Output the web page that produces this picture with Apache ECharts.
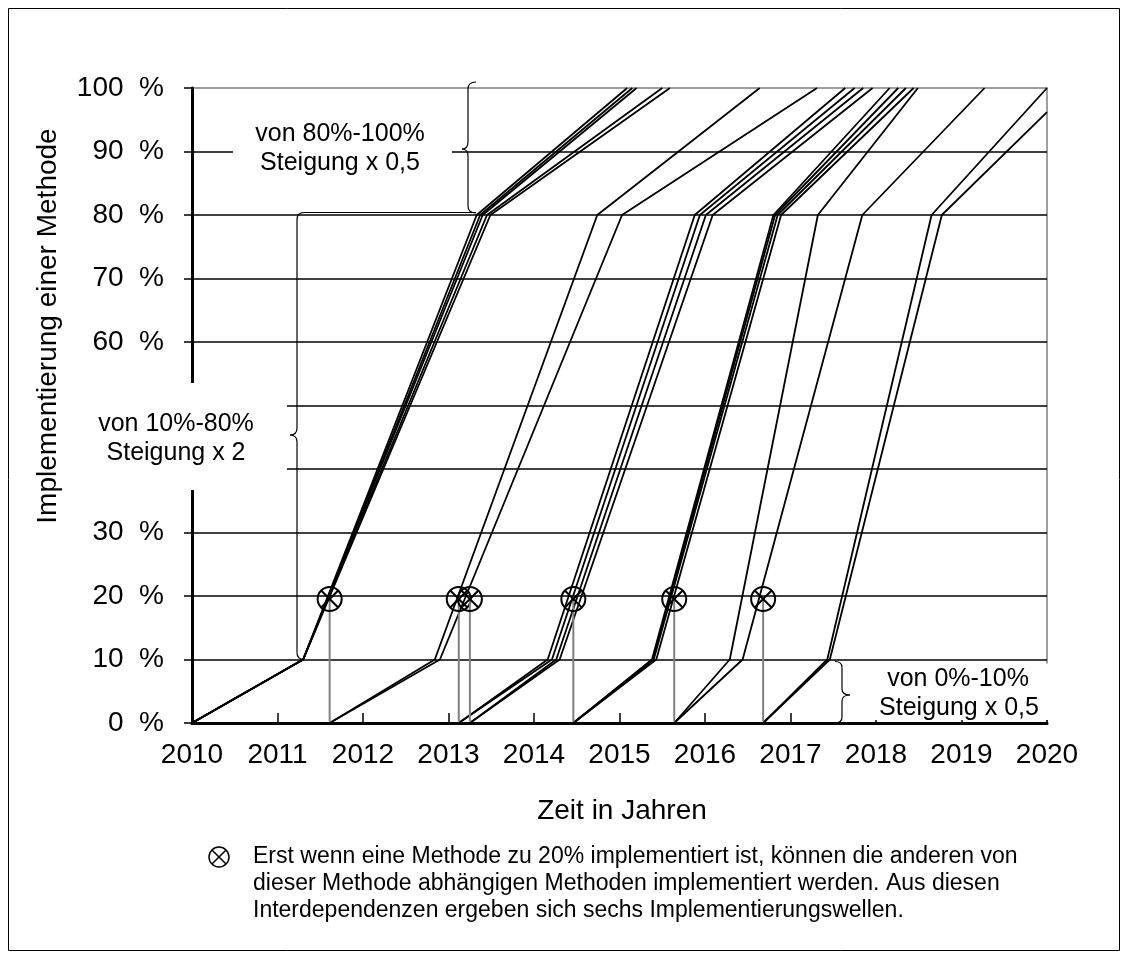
<!DOCTYPE html>
<html>
<head>
<meta charset="utf-8">
<script src="https://cdn.jsdelivr.net/npm/echarts@6/dist/echarts.min.js"></script>
<style>
  html, body { margin: 0; padding: 0; background: #fff; }
  #chart { width: 1128px; height: 959px; }
</style>
</head>
<body>
<div id="chart"></div>
<script>
// Implementation curves: [year, percent] at start, 10 %, 80 % and 100 %
const wave1 = [
  [[2010.00, 0], [2011.30, 10], [2013.33, 80], [2015.09, 100]],
  [[2010.00, 0], [2011.30, 10], [2013.37, 80], [2015.15, 100]],
  [[2010.00, 0], [2011.30, 10], [2013.40, 80], [2015.20, 100]],
  [[2010.00, 0], [2011.30, 10], [2013.45, 80], [2015.50, 100]],
  [[2010.00, 0], [2011.30, 10], [2013.49, 80], [2015.59, 100]]
];
const wave2 = [
  [[2011.61, 0], [2012.84, 10], [2014.74, 80], [2016.64, 100]],
  [[2011.61, 0], [2012.90, 10], [2015.03, 80], [2017.31, 100]]
];
const wave3 = [
  [[2013.12, 0], [2014.16, 10], [2015.88, 80], [2017.64, 100]],
  [[2013.12, 0], [2014.21, 10], [2015.94, 80], [2017.75, 100]],
  [[2013.25, 0], [2014.26, 10], [2016.01, 80], [2017.85, 100]],
  [[2013.25, 0], [2014.30, 10], [2016.09, 80], [2017.96, 100]]
];
const wave4 = [
  [[2014.46, 0], [2015.38, 10], [2016.80, 80], [2018.16, 100]],
  [[2014.46, 0], [2015.39, 10], [2016.82, 80], [2018.26, 100]],
  [[2014.46, 0], [2015.40, 10], [2016.85, 80], [2018.35, 100]],
  [[2014.46, 0], [2015.43, 10], [2016.89, 80], [2018.44, 100]]
];
const wave5 = [
  [[2015.64, 0], [2016.29, 10], [2017.32, 80], [2018.49, 100]],
  [[2015.64, 0], [2016.44, 10], [2017.84, 80], [2019.27, 100]]
];
const wave6 = [
  [[2016.68, 0], [2017.43, 10], [2018.65, 80], [2020.00, 100]],
  [[2016.68, 0], [2017.46, 10], [2018.77, 80], [2020.00, 96.2]]
];

// Points where a method reaches 20 % and the dependent methods may start
const milestoneYears = [2011.61, 2013.12, 2013.25, 2014.46, 2015.64, 2016.68];
const milestoneLevel = 20;

const yearMin = 2010, yearMax = 2020;
const percentMin = 0, percentMax = 100, percentStep = 10;

const xTitle = 'Zeit in Jahren';
const yTitle = 'Implementierung einer Methode';
const noteTop = ['von 80%-100%', 'Steigung x 0,5'];
const noteMid = ['von 10%-80%', 'Steigung x 2'];
const noteLow = ['von 0%-10%', 'Steigung x 0,5'];
const legendLines = [
  'Erst wenn eine Methode zu 20% implementiert ist, können die anderen von',
  'dieser Methode abhängigen Methoden implementiert werden. Aus diesen',
  'Interdependenzen ergeben sich sechs Implementierungswellen.'
];

const FONT = '"Liberation Sans", Arial, sans-serif';
const chart = echarts.init(document.getElementById('chart'), null, { renderer: 'canvas' });

const series = [];
[wave1, wave2, wave3, wave4, wave5, wave6].forEach(wave => {
  wave.forEach(curve => {
    series.push({
      type: 'line',
      data: curve,
      symbol: 'none',
      silent: true,
      z: 3,
      lineStyle: { color: '#000', width: 1.8 },
      emphasis: { disabled: true }
    });
  });
});

// Crossed circle on the 20 % line with a grey drop line to the start of the next wave
function crossedCircle(cx, cy, r, width) {
  const d = r * Math.SQRT1_2;
  const st = { stroke: '#000', lineWidth: width, fill: 'none' };
  return [
    { type: 'circle', shape: { cx, cy, r }, style: st },
    { type: 'line', shape: { x1: cx - d, y1: cy - d, x2: cx + d, y2: cy + d }, style: st },
    { type: 'line', shape: { x1: cx - d, y1: cy + d, x2: cx + d, y2: cy - d }, style: st }
  ];
}

series.push({
  type: 'custom',
  data: milestoneYears.map(y => [y, milestoneLevel]),
  silent: true,
  z: 6,
  renderItem: function (params, api) {
    const c = api.coord([api.value(0), api.value(1)]);
    const b = api.coord([api.value(0), 0]);
    const cy = c[1] + 3;
    return {
      type: 'group',
      children: [
        { type: 'line', shape: { x1: b[0], y1: b[1] - 1.5, x2: c[0], y2: cy },
          style: { stroke: '#808080', lineWidth: 2 } }
      ].concat(crossedCircle(c[0], cy, 12, 2))
    };
  }
});

chart.setOption({
  animation: false,
  backgroundColor: '#fff',
  grid: {
    left: 192, right: 81, top: 88, bottom: 236,
    show: true, borderColor: '#808080', borderWidth: 1.5, backgroundColor: 'transparent'
  },
  xAxis: {
    type: 'value', min: yearMin, max: yearMax, interval: 1,
    axisLine: { show: true, onZero: false, lineStyle: { color: '#000', width: 3 } },
    axisTick: { show: true, inside: true, length: 10, lineStyle: { color: '#000', width: 1.5 } },
    axisLabel: { color: '#000', fontSize: 28, fontFamily: FONT, margin: 18,
      showMinLabel: true, showMaxLabel: true, formatter: v => String(v) },
    splitLine: { show: false }
  },
  yAxis: {
    type: 'value', min: percentMin, max: percentMax, interval: percentStep,
    axisLine: { show: true, lineStyle: { color: '#000', width: 3 } },
    axisTick: { show: true, inside: false, length: 8, lineStyle: { color: '#000', width: 1.5 } },
    axisLabel: { color: '#000', fontSize: 28, fontFamily: FONT, margin: 28,
      showMinLabel: true, showMaxLabel: true, formatter: v => v + '  %' },
    splitLine: { show: true, showMaxLine: false, lineStyle: { color: '#000', width: 1.5 } }
  },
  series: series
});

// Annotation layer: braces, note boxes, titles and the explanation below the plot
const TOP_Z = 100;
const yPx = pct => chart.convertToPixel({ gridIndex: 0 }, [yearMin, pct])[1];
const LINE = { stroke: '#000', lineWidth: 1.2, fill: 'none' };
const onTop = els => els.map(e => Object.assign(e, { z: TOP_Z }));

function vBrace(x, y1, y2, ym, dir, endW, tipW, r) {
  return [
    { type: 'bezierCurve', shape: { x1: x + dir * endW, y1: y1, cpx1: x, cpy1: y1, x2: x, y2: y1 + r }, style: LINE },
    { type: 'line', shape: { x1: x, y1: y1 + r, x2: x, y2: ym - r }, style: LINE },
    { type: 'bezierCurve', shape: { x1: x, y1: ym - r, cpx1: x, cpy1: ym, x2: x - dir * tipW, y2: ym }, style: LINE },
    { type: 'bezierCurve', shape: { x1: x - dir * tipW, y1: ym, cpx1: x, cpy1: ym, x2: x, y2: ym + r }, style: LINE },
    { type: 'line', shape: { x1: x, y1: ym + r, x2: x, y2: y2 - r }, style: LINE },
    { type: 'bezierCurve', shape: { x1: x, y1: y2 - r, cpx1: x, cpy1: y2, x2: x + dir * endW, y2: y2 }, style: LINE }
  ];
}

function label(text, x, y, size, align) {
  return {
    type: 'text', x: x, y: y,
    style: { text: text, fill: '#000', font: size + 'px ' + FONT,
      align: align || 'center', verticalAlign: 'middle',
      textAlign: align || 'center', textVerticalAlign: 'middle' }
  };
}

function whiteBox(x1, y1, x2, y2) {
  return { type: 'rect', shape: { x: x1, y: y1, width: x2 - x1, height: y2 - y1 },
    style: { fill: '#fff', stroke: 'none' } };
}

const y100 = yPx(100), y80 = yPx(80), y10 = yPx(10), y0 = yPx(0);

// brace for the 10 % - 80 % phase, its top running out to the 80 % point
const midBrace = [
  { type: 'line', shape: { x1: 476, y1: y80 - 2.5, x2: 304, y2: y80 - 2.5 }, style: LINE },
  { type: 'bezierCurve', shape: { x1: 304, y1: y80 - 2.5, cpx1: 297, cpy1: y80 - 2.5, x2: 297, y2: y80 + 5 }, style: LINE },
  { type: 'line', shape: { x1: 297, y1: y80 + 5, x2: 297, y2: 428 }, style: LINE },
  { type: 'bezierCurve', shape: { x1: 297, y1: 428, cpx1: 297, cpy1: 435, x2: 290, y2: 435 }, style: LINE },
  { type: 'bezierCurve', shape: { x1: 290, y1: 435, cpx1: 297, cpy1: 435, x2: 297, y2: 442 }, style: LINE },
  { type: 'line', shape: { x1: 297, y1: 442, x2: 297, y2: y10 - 7 }, style: LINE },
  { type: 'bezierCurve', shape: { x1: 297, y1: y10 - 7, cpx1: 297, cpy1: y10, x2: 304, y2: y10 }, style: LINE }
];

const boxes = [
  whiteBox(233, 104, 452, 198),
  whiteBox(66, 383, 287, 490),
  whiteBox(868, y10 + 4, 1050, y0 - 3)
];
const noteTexts = [
  label(noteTop[0], 340, 134, 25),
  label(noteTop[1], 340, 163, 25),
  label(noteMid[0], 176, 424, 25),
  label(noteMid[1], 176, 453, 25),
  label(noteLow[0], 958, 679, 25),
  label(noteLow[1], 959, 708, 25)
];
const braces = vBrace(468, y100 - 6, y80 - 2, 149, 1, 8, 6, 7)
  .concat(midBrace)
  .concat(vBrace(842, y10 + 2, y0, 695, -1, 7, 8, 6));

const titles = [
  { type: 'text', x: 48, y: 326, rotation: Math.PI / 2,
    style: { text: yTitle, fill: '#000', font: '28px ' + FONT,
      align: 'center', verticalAlign: 'middle', textAlign: 'center', textVerticalAlign: 'middle' } },
  label(xTitle, 622, 811, 28)
];

// explanation of the milestone symbol
const explanation = crossedCircle(219, 857, 10, 1.5).concat([
  label(legendLines[0], 253, 857, 23, 'left'),
  label(legendLines[1], 253, 884, 23, 'left'),
  label(legendLines[2], 253, 911, 23, 'left')
]);

const graphics = [
  { type: 'rect', shape: { x: 8.5, y: 8.5, width: 1111, height: 942 },
    style: { fill: 'none', stroke: '#000', lineWidth: 1 }, z: 0 }
].concat(onTop(boxes), onTop(noteTexts), onTop(braces), onTop(titles), onTop(explanation));

chart.setOption({ graphic: graphics });
</script>
</body>
</html>
